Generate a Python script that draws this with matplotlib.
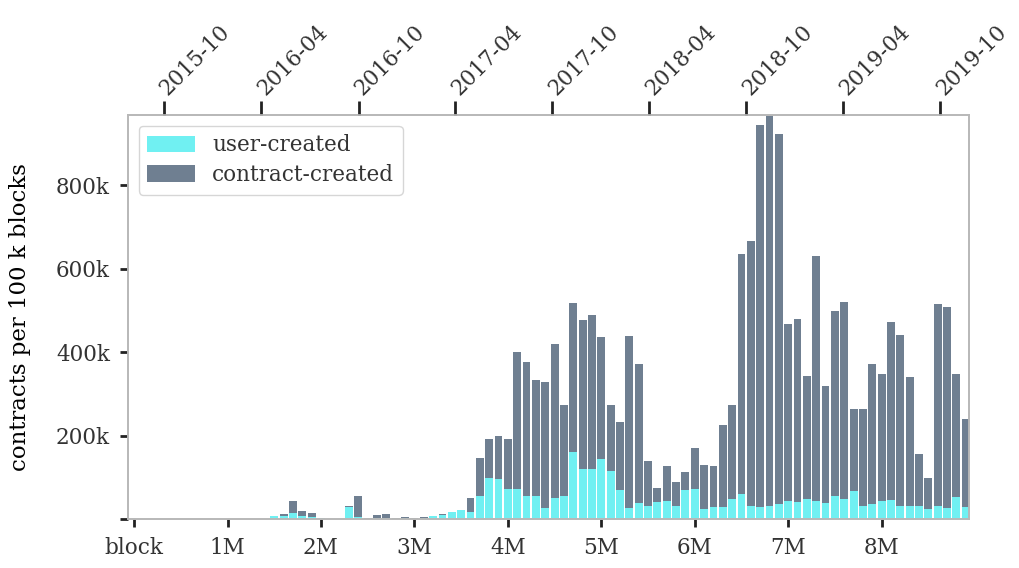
import matplotlib

matplotlib.use("Agg")
import matplotlib.pyplot as plt  # noqa: E402
import numpy as np  # noqa: E402

# bins of 100k blocks, indexed by bin number (bin k centred at k * 100k)
bin_index = np.arange(15, 90)

# stacked totals (k contracts per 100k blocks)
total_k = [
    7, 11, 43, 18, 15, 3, 0, 0, 31, 55,
    2, 9, 12, 2, 4, 2, 4, 7, 11, 16,
    22, 50, 146, 192, 198, 191, 401, 376, 334, 328,
    420, 272, 518, 476, 488, 435, 272, 232, 438, 371,
    139, 75, 126, 88, 112, 171, 130, 127, 225, 272,
    636, 667, 943, 966, 923, 467, 480, 343, 629, 318,
    499, 520, 264, 264, 372, 348, 472, 440, 340, 155,
    99, 514, 507, 348, 240,
]
user_k = [
    6, 8, 15, 8, 5, 2, 0, 0, 29, 5,
    1, 2, 3, 1, 2, 1, 3, 6, 10, 16,
    22, 16, 55, 99, 96, 71, 73, 56, 55, 27,
    50, 55, 160, 119, 119, 144, 115, 70, 27, 38,
    32, 40, 43, 30, 69, 72, 24, 28, 28, 48,
    59, 32, 28, 32, 36, 42, 40, 48, 43, 38,
    54, 48, 68, 32, 36, 43, 45, 32, 32, 32,
    24, 32, 27, 52, 28,
]

# top axis: calendar months and the block height where they start (millions)
date_labels = ["2015-10", "2016-04", "2016-10", "2017-04", "2017-10",
               "2018-04", "2018-10", "2019-04", "2019-10"]
date_blocks_m = [0.317, 1.363, 2.402, 3.439, 4.476, 5.513, 6.551, 7.588, 8.626]

block_ticks_m = [0, 1, 2, 3, 4, 5, 6, 7, 8]
block_labels = ["block", "1M", "2M", "3M", "4M", "5M", "6M", "7M", "8M"]
y_ticks_k = [0, 200, 400, 600, 800]
y_labels = ["", "200k", "400k", "600k", "800k"]

USER_COLOR = "#70f0f2"
CONTRACT_COLOR = "#6f7f91"
SPINE_COLOR = "#b8b8b8"
TICK_COLOR = "#222222"

plt.rcParams["font.family"] = ["DejaVu Serif"]
plt.rcParams["font.size"] = 15.5

x = bin_index * 100_000
user = np.array(user_k) * 1000
contract = (np.array(total_k) - np.array(user_k)) * 1000

fig = plt.figure(figsize=(10.2, 5.68), dpi=100)
ax = fig.add_axes([0.1255, 0.0863, 0.8245, 0.7112])

ax.bar(x, user, width=84_000, color=USER_COLOR, label="user-created")
ax.bar(x, contract, width=84_000, bottom=user, color=CONTRACT_COLOR,
       label="contract-created")

ax.set_xlim(-65_000, 8_935_000)
ax.set_ylim(0, 968_000)
ax.set_xticks(np.array(block_ticks_m) * 1e6)
ax.set_xticklabels(block_labels)
ax.set_yticks(np.array(y_ticks_k) * 1000)
ax.set_yticklabels(y_labels)
ax.set_ylabel("contracts per 100 k blocks", fontsize=16.5, labelpad=18)
ax.tick_params(direction="out", length=6, width=2, color=TICK_COLOR, pad=7,
               labelcolor="#333333")

for spine in ax.spines.values():
    spine.set_color(SPINE_COLOR)
    spine.set_linewidth(1.2)

top = ax.twiny()
top.set_xlim(ax.get_xlim())
top.set_xticks(np.array(date_blocks_m) * 1e6)
top.set_xticklabels(date_labels, rotation=45, ha="left", va="center",
                    rotation_mode="anchor", fontsize=15.5)
top.tick_params(direction="out", length=10, width=2, color=TICK_COLOR, pad=7,
                labelcolor="#333333")
for spine in top.spines.values():
    spine.set_color(SPINE_COLOR)
    spine.set_linewidth(1.2)

leg = ax.legend(loc="upper left", frameon=True, fancybox=True, fontsize=15.5,
                handlelength=2.2, handleheight=0.8, borderaxespad=0.5,
                labelspacing=0.35)
leg.get_frame().set_edgecolor("#cccccc")
for t in leg.get_texts():
    t.set_color("#333333")

fig.savefig("out.png", dpi=100)
